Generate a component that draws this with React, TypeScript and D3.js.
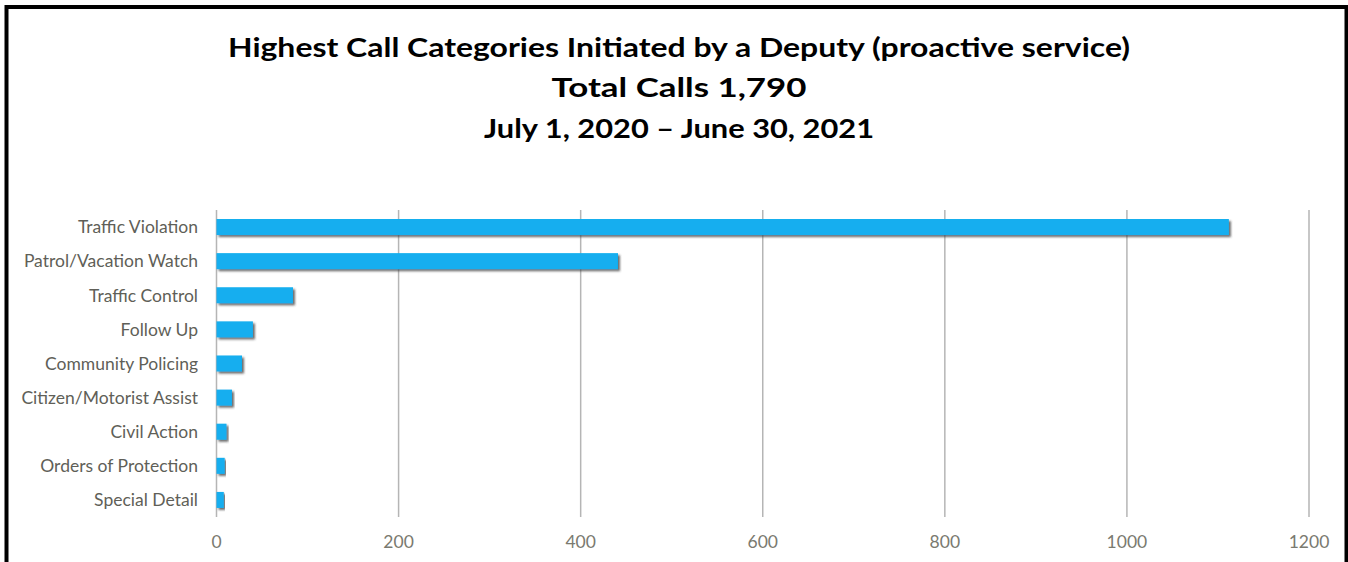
import * as d3 from 'd3'
import { useEffect } from 'react'

const categories = [
  'Traffic Violation',
  'Patrol/Vacation Watch',
  'Traffic Control',
  'Follow Up',
  'Community Policing',
  'Citizen/Motorist Assist',
  'Civil Action',
  'Orders of Protection',
  'Special Detail',
]
const counts = [1112, 441, 84, 40, 28, 17, 11, 9, 8]
const xTicks = [0, 200, 400, 600, 800, 1000, 1200]
const titleLines = [
  'Highest Call Categories Initiated by a Deputy (proactive service)',
  'Total Calls 1,790',
  'July 1, 2020 \u2013 June 30, 2021',
]

const W = 1348
const H = 562
const font = 'Lato, "Open Sans", sans-serif'

export default function App(){
  useEffect(()=>{ document.body.style.margin = '0' }, [])

  const x = d3.scaleLinear().domain([0, 1200]).range([216.5, 1309])
  const y = d3.scaleBand<string>().domain(categories).range([210, 517]).paddingInner(0.53).paddingOuter(0.265)
  const gridTop = 210, gridBottom = 517

  const titleY = [57, 97, 138]
  const titleLen = [902, 255, 390]

  return (
    <svg width={W} height={H} style={{ display: 'block' }}>
      <defs>
        <filter id="shadow" x="-5%" y="-30%" width="120%" height="180%">
          <feDropShadow dx="2" dy="2" stdDeviation="1.2" floodColor="#3a3a3a" floodOpacity="0.75" />
        </filter>
      </defs>
      <rect x={0} y={0} width={W} height={H} fill="#fff" />
      {/* frame */}
      <rect x={6.5} y={7} width={1340} height={H} fill="none" stroke="#000" strokeWidth={4} />

      {titleLines.map((t, i)=> (
        <text key={t} x={679} y={titleY[i]} textAnchor="middle" fontFamily={font} fontWeight={700}
          fontSize={27} fill="#000" textLength={titleLen[i]} lengthAdjust="spacingAndGlyphs">{t}</text>
      ))}

      {xTicks.map(t=> (
        <g key={t}>
          <line x1={x(t)} x2={x(t)} y1={gridTop} y2={gridBottom} stroke="#b5b5b5" strokeWidth={1.5} />
          <text x={x(t)} y={548} textAnchor="middle" fontFamily={font} fontSize={17.5} fill="#7a7a70">{t}</text>
        </g>
      ))}

      {categories.map((c, i)=> (
        <g key={c}>
          <rect x={x(0)} y={y(c)!} width={x(counts[i]) - x(0)} height={y.bandwidth()}
            fill="#12aeef" filter="url(#shadow)" />
          <text x={198} y={y(c)! + y.bandwidth() / 2} dy="0.36em" textAnchor="end"
            fontFamily={font} fontSize={17.5} fill="#5f5f58">{c}</text>
        </g>
      ))}
    </svg>
  )
}
